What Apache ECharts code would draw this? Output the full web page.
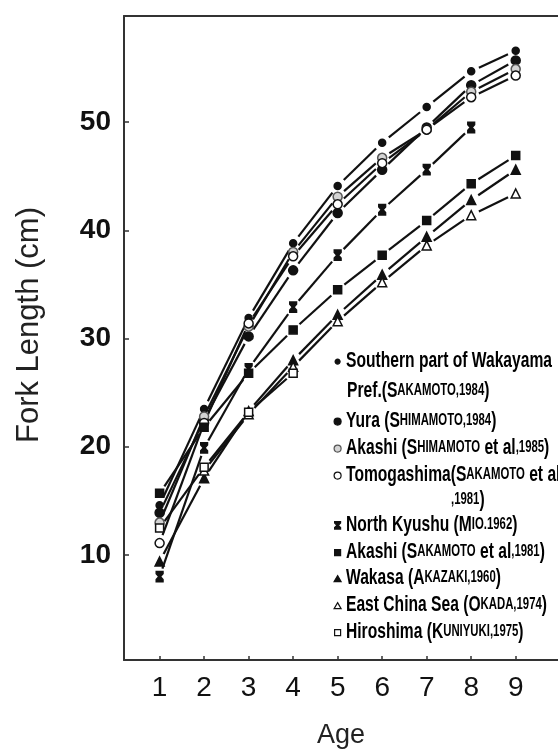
<!DOCTYPE html>
<html>
<head>
<meta charset="utf-8">
<script src="https://cdn.jsdelivr.net/npm/echarts@6/dist/echarts.min.js"></script>
<style>
  html, body { margin: 0; padding: 0; background: #fff; }
  #chart { width: 558px; height: 749px; }
</style>
</head>
<body>
<div id="chart"></div>
<script>
// Growth in fork length by age for several regional studies
const ages = [1, 2, 3, 4, 5, 6, 7, 8, 9];
const yTicks = [10, 20, 30, 40, 50];

const southernWakayama = [14.6, 23.5, 31.9, 38.8, 44.1, 48.1, 51.4, 54.7, 56.6];
const yura             = [13.9, 22.5, 30.2, 36.3, 41.6, 45.6, 49.5, 53.4, 55.7];
const akashiShimamoto  = [13.0, 22.8, 31.1, 38.0, 43.1, 46.7, 49.3, 52.8, 54.9];
const tomogashima      = [11.1, 22.2, 31.4, 37.6, 42.4, 46.2, 49.3, 52.3, 54.3];
const northKyushu      = [8.0, 19.9, 27.2, 32.9, 37.7, 41.9, 45.6, 49.5];
const akashiSakamoto   = [15.7, 21.8, 26.8, 30.8, 34.5, 37.7, 40.9, 44.3, 46.9];
const wakasa           = [9.4, 17.1, 23.3, 28.0, 32.2, 35.9, 39.4, 42.8, 45.6];
const eastChinaSea     = [null, 17.8, 23.0, 27.4, 31.6, 35.2, 38.6, 41.4, 43.4];
const hiroshima        = [12.5, 18.1, 23.2, 26.8];

// legend wording: place name, author, "et al" flag, year
const legendPlace  = ['Southern part of Wakayama', 'Yura', 'Akashi', 'Tomogashima', 'North Kyushu', 'Akashi', 'Wakasa', 'East China Sea', 'Hiroshima'];
const legendAuthor = ['SAKAMOTO', 'SHIMAMOTO', 'SHIMAMOTO', 'SAKAMOTO', 'MIO', 'SAKAMOTO', 'AKAZAKI', 'OKADA', 'KUNIYUKI'];
const legendEtAl   = [false, false, true, true, false, true, false, false, false];
const legendYear   = ['1984', '1984', '1985', '1981', '1962', '1981', '1960', '1974', '1975'];
const legendSep    = [',', ',', ',', ',', '.', ',', ',', ',', ','];

const seriesKeys = ['s0', 's1', 's2', 's3', 's4', 's5', 's6', 's7', 's8'];
const seriesValues = [southernWakayama, yura, akashiShimamoto, tomogashima, northKyushu, akashiSakamoto, wakasa, eastChinaSea, hiroshima];

const INK = '#111';
const hourglass = 'path://M0,0H8V2L5,5L8,8V10H0V8L3,5L0,2Z';

// marker look per series
const markers = [
  { symbol: 'circle', size: 7, fill: INK, stroke: INK },
  { symbol: 'circle', size: 9, fill: INK, stroke: INK },
  { symbol: 'circle', size: 9, fill: '#d4d4d4', stroke: '#555' },
  { symbol: 'circle', size: 9, fill: '#fff', stroke: INK },
  { symbol: hourglass, size: [7, 10], fill: INK, stroke: INK },
  { symbol: 'rect', size: 8, fill: INK, stroke: INK },
  { symbol: 'triangle', size: 9, fill: INK, stroke: INK },
  { symbol: 'triangle', size: 9, fill: '#fff', stroke: INK },
  { symbol: 'rect', size: 8, fill: '#fff', stroke: INK }
];
const legendIconSize = [[5, 5], [7, 7], [7, 7], [7, 7], [6, 8], [6, 6], [7, 6], [7, 6], [6, 6]];

// legend rows (text centre lines); two entries wrap onto a second row
const legendRowY = [361, 421, 448, 475, 525, 552, 578, 605, 632];
const wrapRowY = [391, 500];

const BODY = '"Liberation Sans", Arial, sans-serif';
const legendRich = {
  n: { fontFamily: BODY, fontWeight: 'bold', fontSize: 22, color: INK },
  c: { fontFamily: BODY, fontWeight: 'bold', fontSize: 16, color: INK }
};
const SQUEEZE = 0.71;
const SEGMENT_GAP = 8.5;   // connecting strokes stop short of each marker

function citation(i, withClose) {
  let s = '{n|(' + legendAuthor[i][0] + '}{c|' + legendAuthor[i].slice(1) + '}';
  if (legendEtAl[i]) s += '{n| et al}';
  if (withClose) s += '{c|' + legendSep[i] + legendYear[i] + '}{n|)}';
  return s;
}

function legendText(i) {
  if (i === 0) return '{n|' + legendPlace[i] + '}';
  if (i === 3) return '{n|' + legendPlace[i] + '}' + citation(i, false);
  return '{n|' + legendPlace[i] + ' }' + citation(i, true);
}

function legendLabel(text, x, y) {
  return {
    type: 'text', x: x, y: y, scaleX: SQUEEZE, z: 20,
    style: { text: text, rich: legendRich, x: 0, y: 0, align: 'left', verticalAlign: 'middle' }
  };
}

function points(vals) {
  return vals.map((v, k) => [ages[k], v]).filter(p => p[1] != null);
}

function segments(vals) {
  const p = points(vals);
  const out = [];
  for (let k = 1; k < p.length; k++) out.push([p[k - 1][0], p[k - 1][1], p[k][0], p[k][1]]);
  return out;
}

function renderSegment(params, api) {
  const a = api.coord([api.value(0), api.value(1)]);
  const b = api.coord([api.value(2), api.value(3)]);
  const dx = b[0] - a[0], dy = b[1] - a[1];
  const len = Math.sqrt(dx * dx + dy * dy);
  if (len <= 2 * SEGMENT_GAP) return null;
  const ux = dx / len, uy = dy / len;
  return {
    type: 'line',
    shape: {
      x1: a[0] + ux * SEGMENT_GAP, y1: a[1] + uy * SEGMENT_GAP,
      x2: b[0] - ux * SEGMENT_GAP, y2: b[1] - uy * SEGMENT_GAP
    },
    style: { stroke: INK, lineWidth: 2.2, lineCap: 'butt' }
  };
}

const lineSeries = seriesValues.map((vals, i) => ({
  name: 'line-' + seriesKeys[i],
  type: 'custom',
  renderItem: renderSegment,
  data: segments(vals),
  encode: { x: [0, 2], y: [1, 3] },
  silent: true,
  animation: false,
  z: 2
}));

const markerSeries = seriesValues.map((vals, i) => ({
  name: seriesKeys[i],
  type: 'scatter',
  data: points(vals),
  symbol: markers[i].symbol,
  symbolSize: markers[i].size,
  itemStyle: { color: markers[i].fill, borderColor: markers[i].stroke, borderWidth: 1.5, opacity: 1 },
  emphasis: { disabled: true },
  animation: false,
  z: 4
}));

// legend icons come from the legend component; wording is set beside them
const legends = seriesKeys.map((key, i) => ({
  data: [{
    name: key,
    icon: typeof markers[i].symbol === 'string' ? markers[i].symbol : 'circle',
    itemStyle: { color: markers[i].fill, borderColor: markers[i].stroke, borderWidth: 1.2 }
  }],
  left: 337 - legendIconSize[i][0] / 2,
  top: legendRowY[i] - legendIconSize[i][1] / 2,
  itemWidth: legendIconSize[i][0],
  itemHeight: legendIconSize[i][1],
  padding: 0,
  selectedMode: false,
  formatter: () => '',
  textStyle: { fontSize: 1 }
}));

const legendTexts = seriesKeys.map((k, i) => legendLabel(legendText(i), 346, legendRowY[i]));
legendTexts.push(legendLabel('{n|Pref.}' + citation(0, true), 347, wrapRowY[0]));
legendTexts.push(legendLabel('{c|' + legendSep[3] + legendYear[3] + '}{n|)}', 451, wrapRowY[1]));

const chart = echarts.init(document.getElementById('chart'), null, { renderer: 'canvas' });
chart.setOption({
  animation: false,
  backgroundColor: '#fff',
  grid: { left: 124, right: 0, top: 16, bottom: 89, containLabel: false, outerBoundsMode: 'none' },
  xAxis: [{
    type: 'value',
    min: 0.2,
    max: 9.95,
    position: 'bottom',
    axisLine: { lineStyle: { color: '#333', width: 2 } },
    axisTick: { show: true, inside: true, length: 4, customValues: ages, lineStyle: { color: '#333', width: 1.5 } },
    axisLabel: { customValues: ages, margin: 14, fontFamily: BODY, fontSize: 28, color: '#111' },
    splitLine: { show: false },
    name: 'Age',
    nameLocation: 'middle',
    nameGap: 62,
    nameTextStyle: { fontFamily: BODY, fontSize: 27, color: '#222' }
  }, {
    type: 'value',
    min: 0.2,
    max: 9.95,
    position: 'top',
    axisLine: { lineStyle: { color: '#333', width: 2 } },
    axisTick: { show: false },
    axisLabel: { show: false },
    splitLine: { show: false }
  }],
  yAxis: {
    type: 'value',
    min: 0.3,
    max: 59.8,
    axisLine: { show: true, lineStyle: { color: '#333', width: 2 } },
    axisTick: { show: true, inside: true, length: 5, customValues: yTicks, lineStyle: { color: '#333', width: 1.5 } },
    axisLabel: { customValues: yTicks, margin: 13, fontFamily: BODY, fontWeight: 'bold', fontSize: 28, color: '#111' },
    splitLine: { show: false },
    name: 'Fork Length (cm)',
    nameLocation: 'middle',
    nameGap: 79,
    nameTextStyle: { fontFamily: BODY, fontSize: 31, color: '#222', padding: [0, 0, 0, 26] }
  },
  legend: legends,
  graphic: legendTexts,
  series: lineSeries.concat(markerSeries)
});
</script>
</body>
</html>
